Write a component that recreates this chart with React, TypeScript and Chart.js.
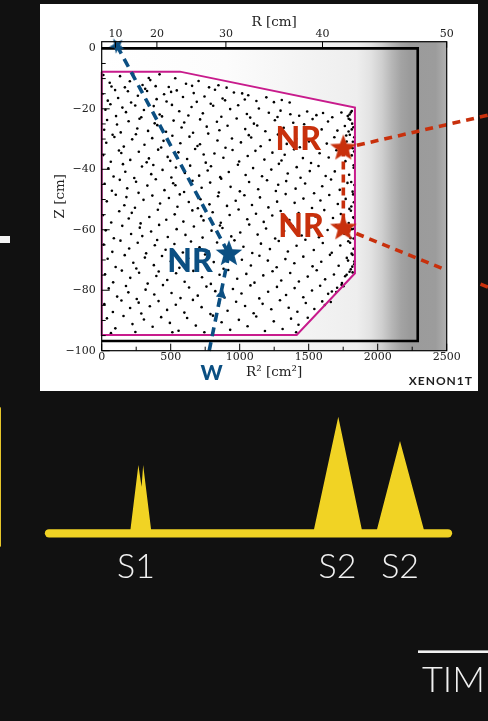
import React, { useEffect, useRef } from "react";
import { Chart, registerables } from "chart.js";

Chart.register(...registerables);

// ---------------- data ----------------
const R2_MAJOR = [0, 500, 1000, 1500, 2000, 2500];
const R2_MINOR = [250, 750, 1250, 1750, 2250];
const R_TOP = [10, 20, 30, 40, 50];
const Z_MAJOR = [0, -20, -40, -60, -80, -100];
const Z_MINOR = [-5, -10, -15, -25, -30, -35, -45, -50, -55, -65, -70, -75, -85, -90, -95];

// fiducial volume (magenta)
const FV_R2 = [0, 567, 1835, 1835, 1413, 0, 0];
const FV_Z = [-7.7, -7.7, -19.6, -74.4, -94.8, -94.8, -7.7];
// TPC boundary (black)
const TPC_R2 = [0, 2290, 2290, 0];
const TPC_Z = [0, 0, -96.8, -96.8];
// background event density (grey)
const BG_R2 = [0, 2500];
const BG_Z = [2.2, 2.2];
const BG_STOPS: [number, string][] = [
  [0, "#ffffff"], [900, "#fcfcfc"], [1500, "#f3f3f3"], [1850, "#eeeeee"],
  [1950, "#e2e2e2"], [2030, "#cfcfcf"], [2100, "#b7b7b7"], [2170, "#a3a3a3"],
  [2230, "#9b9b9b"], [2420, "#9c9c9c"], [2500, "#b0b0b0"],
];

const DOTS: [number, number][] = [
  [12,-8.8],[58,-11.4],[71,-12.6],[133,-9.2],[204,-10.9],[228,-8.4],[296,-12.1],[341,-9.8],[352,-10.5],[419,-8.6],[486,-12.8],[533,-9.9],[611,-11.7],[655,-12.4],[702,-10.8],[778,-12.9],[846,-12.2],[905,-13.0],[391,-12.5],[168,-12.9],
  [5,-15.1],[44,-17.3],[97,-13.8],[119,-16.4],[190,-14.2],[213,-17.9],[262,-15.7],[315,-13.4],[329,-14.1],[398,-16.8],[452,-15.2],[470,-17.6],[544,-13.9],[589,-16.1],[667,-14.8],[689,-17.7],[745,-15.9],[821,-13.7],[876,-16.6],[894,-17.2],[958,-14.6],[1037,-16.9],[1062,-15.5],[1121,-17.4],[1193,-16.2],[1248,-17.8],[1305,-17.1],[1362,-17.9],[1018,-14.9],[503,-14.4],
  [27,-20.3],[63,-18.5],[104,-22.4],[150,-19.6],[176,-21.1],[243,-18.9],[287,-22.8],[306,-20.4],[377,-19.1],[420,-21.9],[437,-22.5],[509,-18.7],[562,-20.8],[628,-22.2],[651,-19.4],[733,-21.5],[790,-18.3],[808,-19.0],[867,-22.6],[931,-20.1],[989,-18.8],[1052,-21.7],[1076,-22.9],[1139,-19.9],[1211,-21.3],[1274,-22.7],[1296,-20.6],[1367,-21.8],[1431,-22.3],[1489,-20.9],[1556,-22.1],[1604,-21.4],[1671,-22.8],[1737,-21.2],[1783,-22.4],[1812,-20.7],[1796,-21.9],
  [18,-26.9],[39,-23.7],[111,-25.2],[138,-27.8],[195,-24.1],[258,-26.5],[274,-23.3],[336,-27.3],[384,-24.8],[403,-25.4],[466,-27.6],[521,-23.9],[579,-26.2],[598,-24.5],[662,-27.9],[713,-23.5],[761,-25.9],[835,-24.3],[853,-27.1],[912,-25.6],[978,-23.2],[1040,-26.7],[1103,-24.9],[1127,-25.5],[1186,-27.4],[1255,-23.8],[1319,-26.3],[1388,-24.6],[1402,-27.7],[1467,-25.1],[1528,-23.4],[1594,-26.8],[1640,-24.2],[1708,-27.2],[1762,-25.7],[1801,-23.6],[1824,-26.1],[1789,-27.5],[1815,-24.9],
  [33,-31.2],[79,-28.6],[92,-29.3],[160,-32.5],[221,-30.1],[248,-28.4],[310,-31.9],[366,-29.7],[431,-32.8],[448,-30.6],[512,-28.9],[570,-31.4],[636,-29.2],[694,-32.3],[712,-31.7],[772,-28.2],[839,-30.5],[897,-32.9],[944,-29.8],[1009,-31.1],[1066,-28.7],[1083,-29.5],[1152,-32.4],[1218,-30.3],[1277,-28.5],[1341,-31.6],[1409,-29.9],[1436,-32.7],[1502,-30.8],[1563,-28.3],[1631,-31.5],[1686,-29.4],[1742,-32.2],[1772,-28.8],[1820,-30.9],[1806,-32.6],
  [11,-35.3],[66,-37.5],[125,-33.8],[142,-34.6],[207,-36.9],[269,-34.2],[326,-37.7],[342,-36.4],[409,-33.5],[478,-35.9],[497,-37.2],[556,-34.4],[619,-36.6],[677,-33.3],[739,-35.1],[754,-37.8],[817,-34.8],[882,-36.2],[948,-33.6],[996,-37.4],[1058,-35.6],[1114,-33.9],[1179,-36.8],[1237,-34.5],[1303,-37.1],[1326,-35.2],[1394,-33.4],[1458,-36.3],[1517,-37.9],[1579,-34.7],[1645,-36.1],[1701,-33.7],[1766,-37.3],[1812,-35.4],[1829,-34.1],
  [48,-39.7],[86,-42.4],[154,-38.3],[171,-40.8],[236,-42.9],[292,-39.1],[359,-41.6],[374,-38.6],[441,-40.2],[505,-42.7],[538,-39.4],[603,-41.2],[641,-38.8],[706,-42.1],[768,-40.4],[792,-39.0],[859,-42.6],[921,-40.9],[987,-38.5],[1043,-41.9],[1097,-39.6],[1162,-42.3],[1229,-40.1],[1284,-38.2],[1348,-41.4],[1413,-39.3],[1441,-42.8],[1508,-40.6],[1571,-38.9],[1623,-42.2],[1689,-40.7],[1750,-39.5],[1793,-41.8],[1826,-38.7],
  [21,-44.8],[74,-47.1],[131,-43.5],[185,-46.3],[249,-44.1],[267,-47.8],[331,-45.4],[392,-43.3],[455,-46.9],[518,-44.6],[534,-45.3],[597,-47.5],[658,-43.8],[724,-46.1],[786,-44.4],[849,-47.7],[866,-43.1],[934,-45.8],[1001,-47.3],[1068,-44.2],[1134,-46.6],[1198,-43.6],[1262,-47.2],[1279,-45.1],[1337,-43.9],[1405,-46.4],[1474,-44.7],[1539,-47.9],[1598,-45.6],[1662,-43.4],[1725,-46.8],[1781,-44.5],[1818,-47.4],[1831,-45.2],
  [37,-50.6],[102,-48.4],[164,-51.9],[179,-49.2],[241,-52.7],[303,-50.1],[367,-48.7],[423,-51.3],[487,-49.5],[549,-52.4],[566,-48.3],[631,-50.8],[697,-52.9],[716,-49.9],[781,-51.6],[843,-48.9],[908,-52.1],[971,-50.4],[1034,-48.6],[1089,-51.8],[1147,-49.3],[1208,-52.6],[1271,-50.7],[1333,-48.2],[1398,-51.1],[1462,-49.7],[1524,-52.8],[1585,-50.3],[1649,-48.5],[1711,-51.5],[1768,-49.8],[1809,-52.3],[1827,-50.9],
  [8,-55.2],[69,-57.6],[127,-53.9],[196,-56.3],[218,-54.4],[282,-57.9],[345,-55.8],[407,-53.4],[468,-56.7],[529,-54.9],[592,-57.3],[657,-53.6],[721,-55.5],[738,-56.9],[804,-54.2],[863,-57.7],[927,-55.1],[992,-53.3],[1055,-56.5],[1118,-54.7],[1174,-57.4],[1236,-55.3],[1297,-53.8],[1360,-56.8],[1427,-54.5],[1493,-57.2],[1548,-55.6],[1613,-53.5],[1676,-56.1],[1733,-54.8],[1790,-57.8],[1823,-55.9],[1806,-53.7],
  [29,-60.2],[88,-62.8],[149,-58.7],[213,-61.4],[276,-59.3],[294,-62.1],[358,-60.6],[416,-58.4],[479,-62.4],[543,-59.8],[607,-61.7],[668,-58.9],[731,-62.6],[796,-60.3],[857,-58.6],[875,-59.4],[939,-62.2],[1004,-60.9],[1069,-58.3],[1130,-61.6],[1191,-59.6],[1257,-62.9],[1322,-60.4],[1385,-58.8],[1449,-61.9],[1516,-59.2],[1574,-62.5],[1637,-60.1],[1698,-58.5],[1758,-61.3],[1803,-62.7],[1829,-59.7],
  [14,-64.9],[77,-67.3],[136,-63.6],[199,-66.2],[261,-64.3],[322,-67.8],[385,-65.1],[402,-63.4],[463,-66.6],[527,-64.7],[588,-67.5],[647,-63.9],[709,-65.8],[774,-67.1],[836,-64.2],[898,-66.9],[962,-63.5],[1027,-65.6],[1091,-67.7],[1154,-64.6],[1219,-66.4],[1283,-63.7],[1349,-67.2],[1412,-65.3],[1476,-63.3],[1537,-66.7],[1602,-64.4],[1667,-67.6],[1729,-65.2],[1787,-63.8],[1825,-66.3],[1811,-67.9],
  [43,-69.6],[101,-72.3],[167,-68.4],[229,-70.9],[251,-72.8],[313,-69.2],[378,-71.7],[437,-68.7],[501,-70.4],[563,-72.6],[626,-69.4],[688,-71.3],[749,-68.2],[812,-70.7],[883,-72.9],[1016,-69.9],[1081,-71.8],[1143,-68.6],[1204,-70.2],[1268,-72.4],[1331,-69.7],[1396,-71.1],[1461,-68.9],[1528,-72.1],[1591,-70.6],[1654,-68.3],[1717,-71.9],[1776,-69.3],[1816,-72.2],[1830,-70.5],
  [24,-74.7],[83,-77.4],[146,-73.5],[207,-75.9],[271,-74.2],[333,-77.8],[396,-75.3],[413,-73.8],[475,-76.6],[539,-74.4],[601,-77.2],[664,-73.6],[727,-75.7],[791,-77.9],[854,-74.9],[917,-73.3],[982,-76.2],[1048,-74.6],[1107,-77.5],[1171,-75.1],[1238,-73.7],[1301,-76.8],[1366,-74.3],[1429,-77.1],[1493,-75.5],[1558,-73.4],[1619,-76.4],[1683,-74.8],[1741,-77.6],[1796,-73.9],[1764,-75.4],[1818,-74.1],
  [51,-79.4],[112,-82.1],[176,-78.6],[193,-80.7],[254,-82.9],[318,-79.8],[381,-81.4],[444,-78.3],[506,-80.9],[571,-82.6],[633,-79.1],[696,-81.8],[759,-78.8],[823,-80.3],[889,-82.4],[951,-79.6],[1013,-81.1],[1078,-78.4],[1142,-82.7],[1206,-80.5],[1270,-78.9],[1336,-81.6],[1398,-79.3],[1461,-82.3],[1524,-80.1],[1583,-78.5],[1641,-81.2],[1706,-79.2],[1738,-78.2],[1668,-80.4],
  [19,-84.6],[81,-87.2],[143,-83.4],[206,-85.9],[268,-84.1],[287,-87.7],[349,-85.3],[412,-83.6],[474,-86.5],[537,-84.8],[599,-87.4],[661,-83.2],[724,-85.6],[788,-87.9],[849,-84.3],[912,-86.8],[974,-83.8],[1039,-85.2],[1101,-87.6],[1166,-84.5],[1229,-86.3],[1292,-83.3],[1355,-85.8],[1418,-87.1],[1479,-84.2],[1541,-86.2],[1598,-83.7],[1617,-84.9],
  [38,-89.3],[99,-92.6],[158,-88.5],[223,-91.2],[244,-93.8],[306,-89.7],[369,-92.1],[431,-88.9],[494,-90.8],[557,-93.4],[619,-89.2],[682,-91.7],[744,-93.9],[806,-88.4],[869,-90.6],[931,-93.1],[994,-89.8],[1057,-91.9],[1120,-88.7],[1183,-93.5],[1247,-90.3],[1311,-92.8],[1372,-89.4],[1426,-91.4],[1493,-89.1],[1409,-93.9],[67,-94.2],[512,-93.9],
  [1805,-21.2],[1790,-23.3],[1812,-26.8],[1798,-28.6],[1830,-29.4],[1775,-30.8],[1818,-33.0],[1826,-39.5],[1808,-44.2],[1822,-48.3],[1795,-53.1],[1828,-56.1],[1812,-59.8],[1825,-62.9],[1800,-64.3],[1818,-68.3],[1830,-71.4],[1805,-73.1],[1785,-70.2],[1775,-74.9],[1752,-78.7],[1700,-80.6],[1660,-83.9],
];

// neutron paths and interaction sites
const BLUE_UP: [number, number][] = [[111, 0.9], [922, -68.0]];
const BLUE_DOWN: [number, number][] = [[922, -68.0], [771, -101.8]];
const BLUE_ARROW: [number, number][] = [[868, -81.4]];
const BLUE_STAR_END: [number, number][] = [[111, 0.9]];
const BLUE_STAR_SITE: [number, number][] = [[922, -68.0]];
const RED_STAR_SITES: [number, number][] = [[1751, -33.1], [1751, -59.5]];
const RED_VERT: [number, number][] = [[1751, -33.1], [1751, -59.5]];
const RED_UP: [number, number][] = [[1751, -33.1], [2800, -22.1]];
const RED_LOW_A: [number, number][] = [[1751, -59.5], [2500, -73.4]];
const RED_LOW_B: [number, number][] = [[2745, -78.0], [2800, -79.0]];

// text anchors (R², Z)
const TEXT_LABELS = [
  { text: "NR", r2: 640, z: -73.9, color: "blue", size: 32 },
  { text: "NR", r2: 1425, z: -33.6, color: "red", size: 32 },
  { text: "NR", r2: 1444, z: -62.3, color: "red", size: 32 },
  { text: "W", r2: 796, z: -109.7, color: "blue", size: 21 },
];

// PMT waveform (time, amplitude)
const WAVE_T = [0, 20.3, 22.4, 23.2, 23.6, 25.7, 66.2, 72.5, 78.6, 81.95, 87.97, 94.2, 100];
const WAVE_A = [0, 0, 58.6, 40, 58.6, 0, 0, 100, 0, 0, 79.2, 0, 0];
const BASE_T = [0, 100];
const BASE_A = [0, 0];
const PEAK_LABELS = [
  { text: "S1", t: 21.8 },
  { text: "S2", t: 72.3 },
  { text: "S2", t: 88.0 },
];

// ---------------- styles ----------------
const BLUE = "#0b4f82";
const RED = "#c8300c";
const MAGENTA = "#c81b8c";
const YELLOW = "#f1d324";
const BG = "#111111";

const zip = (xs: number[], ys: number[]) => xs.map((x, i) => ({ x, y: ys[i] }));
const pts = (a: [number, number][]) => a.map(([x, y]) => ({ x, y }));

function makeStar(color: string, R: number, ratio = 0.42) {
  const c = document.createElement("canvas");
  const s = Math.ceil(2 * R + 4);
  c.width = s;
  c.height = s;
  const g = c.getContext("2d")!;
  g.translate(s / 2, s / 2);
  g.beginPath();
  for (let i = 0; i < 10; i++) {
    const r = i % 2 === 0 ? R : R * ratio;
    const a = -Math.PI / 2 + (i * Math.PI) / 5;
    const px = Math.cos(a) * r;
    const py = Math.sin(a) * r;
    if (i === 0) g.moveTo(px, py);
    else g.lineTo(px, py);
  }
  g.closePath();
  g.fillStyle = color;
  g.fill();
  return c;
}

const serif = "'DejaVu Serif', serif";

export default function App() {
  const c1 = useRef<HTMLCanvasElement>(null);
  const c2 = useRef<HTMLCanvasElement>(null);

  useEffect(() => {
    if (!c1.current || !c2.current) return;

    const starBlueSmall = makeStar(BLUE, 8);
    const starBlue = makeStar(BLUE, 14);
    const starRed = makeStar(RED, 14);

    const panelPlugin = {
      id: "panel",
      beforeDraw(chart: any) {
        const { ctx, width, height } = chart;
        ctx.save();
        ctx.fillStyle = BG;
        ctx.fillRect(0, 0, width, height);
        ctx.fillStyle = "#ffffff";
        ctx.fillRect(40, 4, 438, 387);
        ctx.restore();
      },
      afterDatasetsDraw(chart: any) {
        const { ctx, chartArea, scales } = chart;
        const { left, right, top, bottom } = chartArea;
        const sx = scales.x;
        const sy = scales.y;
        ctx.save();
        ctx.strokeStyle = "#000";
        ctx.lineWidth = 1.2;
        ctx.strokeRect(left, top, right - left, bottom - top);
        ctx.lineWidth = 1;
        ctx.beginPath();
        R2_MAJOR.forEach((v) => {
          const x = sx.getPixelForValue(v);
          ctx.moveTo(x, bottom);
          ctx.lineTo(x, bottom - 7);
        });
        R2_MINOR.forEach((v) => {
          const x = sx.getPixelForValue(v);
          ctx.moveTo(x, bottom);
          ctx.lineTo(x, bottom - 4);
        });
        R_TOP.forEach((r) => {
          const x = sx.getPixelForValue(r * r);
          ctx.moveTo(x, top);
          ctx.lineTo(x, top + 6);
        });
        Z_MAJOR.forEach((v) => {
          const y = sy.getPixelForValue(v);
          ctx.moveTo(left, y);
          ctx.lineTo(left + 8, y);
        });
        Z_MINOR.forEach((v) => {
          const y = sy.getPixelForValue(v);
          ctx.moveTo(left, y);
          ctx.lineTo(left + 4, y);
        });
        ctx.stroke();

        ctx.textAlign = "center";
        ctx.textBaseline = "alphabetic";
        TEXT_LABELS.forEach((l) => {
          ctx.fillStyle = l.color === "blue" ? BLUE : RED;
          ctx.font = `900 ${l.size}px Lato, 'Noto Sans', sans-serif`;
          ctx.fillText(l.text, sx.getPixelForValue(l.r2), sy.getPixelForValue(l.z));
        });

        ctx.fillStyle = "#1e1e1e";
        ctx.font = "700 12px Lato, sans-serif";
        (ctx as any).letterSpacing = "1px";
        ctx.textAlign = "right";
        ctx.fillText("XENON1T", 473, 385);
        ctx.restore();
      },
    };

    const gradient = (ctx: any) => {
      const chart = ctx.chart;
      const xs = chart.scales && chart.scales.x;
      if (!chart.chartArea || !xs) return "#ffffff";
      const x0 = xs.getPixelForValue(0);
      const x1 = xs.getPixelForValue(2500);
      const g = chart.ctx.createLinearGradient(x0, 0, x1, 0);
      BG_STOPS.forEach(([v, c]) => g.addColorStop(v / 2500, c));
      return g;
    };

    const lineDs = (data: any[], color: string, width: number, dash: number[] | undefined, order: number) => ({
      data,
      showLine: true,
      pointRadius: 0,
      borderColor: color,
      borderWidth: width,
      borderDash: dash,
      fill: false,
      clip: false as any,
      order,
    });

    const chart1 = new Chart(c1.current, {
      type: "scatter",
      data: {
        datasets: [
          {
            data: zip(BG_R2, BG_Z),
            showLine: true,
            pointRadius: 0,
            borderWidth: 0,
            borderColor: "rgba(0,0,0,0)",
            fill: "start",
            backgroundColor: gradient,
            order: 100,
          } as any,
          {
            data: zip(FV_R2, FV_Z),
            showLine: true,
            pointRadius: 0,
            borderWidth: 0,
            borderColor: "rgba(0,0,0,0)",
            fill: "shape",
            backgroundColor: "#ffffff",
            order: 90,
          } as any,
          {
            data: pts(DOTS),
            pointRadius: 1.3,
            pointBackgroundColor: "#000",
            pointBorderWidth: 0,
            order: 80,
          } as any,
          lineDs(zip(FV_R2, FV_Z), MAGENTA, 2, undefined, 70),
          lineDs(zip(TPC_R2, TPC_Z), "#000", 2.6, undefined, 60),
          lineDs(pts(BLUE_UP), BLUE, 3.6, [9, 6], 50),
          lineDs(pts(BLUE_DOWN), BLUE, 3.6, [9, 6], 50),
          lineDs(pts(RED_VERT), RED, 3.6, [8, 5], 50),
          lineDs(pts(RED_UP), RED, 3.6, [8, 6], 50),
          lineDs(pts(RED_LOW_A), RED, 3.6, [8, 6], 50),
          lineDs(pts(RED_LOW_B), RED, 3.6, [8, 6], 50),
          {
            data: pts(BLUE_ARROW),
            pointStyle: "triangle",
            pointRadius: 6,
            pointRotation: 11,
            pointBackgroundColor: BLUE,
            pointBorderWidth: 0,
            clip: false,
            order: 40,
          } as any,
          {
            data: pts(BLUE_STAR_END),
            pointStyle: starBlueSmall,
            pointRadius: 8,
            pointRotation: -28,
            clip: false,
            order: 30,
          } as any,
          {
            data: pts(BLUE_STAR_SITE),
            pointStyle: starBlue,
            pointRadius: 10,
            clip: false,
            order: 30,
          } as any,
          {
            data: pts(RED_STAR_SITES),
            pointStyle: starRed,
            pointRadius: 10,
            clip: false,
            order: 30,
          } as any,
        ],
      },
      options: {
        responsive: false,
        maintainAspectRatio: false,
        animation: false,
        events: [],
        layout: { padding: { left: 40, right: 41.3, top: 4, bottom: 9 } },
        plugins: { legend: { display: false }, tooltip: { enabled: false } },
        scales: {
          x: {
            type: "linear",
            position: "bottom",
            min: 0,
            max: 2500,
            afterBuildTicks: (s: any) => {
              s.ticks = R2_MAJOR.map((v) => ({ value: v }));
            },
            afterFit: (s: any) => {
              s.height = 40.3;
            },
            grid: { display: false, drawTicks: false },
            border: { display: false },
            ticks: {
              autoSkip: false,
              maxRotation: 0,
              padding: 0,
              color: "#222",
              font: { family: serif, size: 11 },
              callback: (v: any) => String(v),
            },
            title: {
              display: true,
              text: "R² [cm²]",
              color: "#222",
              font: { family: serif, size: 13.5 },
              padding: { top: 0, bottom: 10.9 },
            },
          },
          xTop: {
            type: "linear",
            position: "top",
            min: 0,
            max: 2500,
            afterBuildTicks: (s: any) => {
              s.ticks = R_TOP.map((r) => ({ value: r * r }));
            },
            afterFit: (s: any) => {
              s.height = 37.7;
            },
            grid: { display: false, drawTicks: false },
            border: { display: false },
            ticks: {
              autoSkip: false,
              maxRotation: 0,
              padding: 1.4,
              color: "#222",
              font: { family: serif, size: 11 },
              callback: (v: any) => String(Math.round(Math.sqrt(Number(v)))),
            },
            title: {
              display: true,
              text: "R [cm]",
              color: "#222",
              font: { family: serif, size: 13.5 },
              padding: { top: 10.6, bottom: 0 },
            },
          },
          y: {
            type: "linear",
            position: "left",
            min: -100,
            max: 2.2,
            afterBuildTicks: (s: any) => {
              s.ticks = Z_MAJOR.map((v) => ({ value: v }));
            },
            afterFit: (s: any) => {
              s.width = 61.7;
            },
            grid: { display: false, drawTicks: false },
            border: { display: false },
            ticks: {
              autoSkip: false,
              padding: 6,
              color: "#222",
              font: { family: serif, size: 11 },
              callback: (v: any) => (Number(v) < 0 ? "\u2212" + Math.abs(Number(v)) : String(v)),
            },
            title: {
              display: true,
              text: "Z [cm]",
              color: "#222",
              font: { family: serif, size: 13.5 },
              padding: { top: 11.9, bottom: 0 },
            },
          },
        },
      } as any,
      plugins: [panelPlugin as any],
    });

    const wavePlugin = {
      id: "waveText",
      afterDatasetsDraw(chart: any) {
        const { ctx, scales } = chart;
        ctx.save();
        ctx.fillStyle = "#f2f2f2";
        ctx.font = "300 34px Lato, Roboto, sans-serif";
        ctx.textAlign = "center";
        ctx.textBaseline = "alphabetic";
        PEAK_LABELS.forEach((l) => {
          ctx.fillText(l.text, scales.x.getPixelForValue(l.t), scales.y.getPixelForValue(-38.3));
        });
        ctx.textAlign = "left";
        ctx.font = "300 36px Lato, Roboto, sans-serif";
        ctx.fillText("TIM", 422, 291.7);
        ctx.fillStyle = "#f2f2f2";
        ctx.fillRect(418, 250.4, 70, 2.6);
        ctx.restore();
      },
    };

    const chart2 = new Chart(c2.current, {
      type: "scatter",
      data: {
        datasets: [
          {
            data: zip(WAVE_T, WAVE_A),
            showLine: true,
            pointRadius: 0,
            borderWidth: 0,
            borderColor: "rgba(0,0,0,0)",
            backgroundColor: YELLOW,
            fill: "origin",
            order: 2,
          } as any,
          {
            data: zip(BASE_T, BASE_A),
            showLine: true,
            pointRadius: 0,
            borderColor: YELLOW,
            borderWidth: 8.3,
            borderCapStyle: "round",
            fill: false,
            clip: false,
            order: 1,
          } as any,
        ],
      },
      options: {
        responsive: false,
        maintainAspectRatio: false,
        animation: false,
        events: [],
        layout: { padding: { left: 49, right: 40, top: 16.7, bottom: 187.7 } },
        plugins: { legend: { display: false }, tooltip: { enabled: false } },
        scales: {
          x: { type: "linear", min: 0, max: 100, display: false },
          y: { type: "linear", min: 0, max: 100, display: false },
        },
      } as any,
      plugins: [wavePlugin as any],
    });

    return () => {
      chart1.destroy();
      chart2.destroy();
    };
  }, []);

  return (
    <div
      style={{
        position: "fixed",
        left: 0,
        top: 0,
        width: 488,
        height: 721,
        background: BG,
        overflow: "hidden",
      }}
    >
      <canvas ref={c1} width={488} height={400} style={{ position: "absolute", left: 0, top: 0 }} />
      <canvas ref={c2} width={488} height={321} style={{ position: "absolute", left: 0, top: 400 }} />
      <div style={{ position: "absolute", left: 0, top: 236, width: 10, height: 7, background: "#f4f4f4" }} />
      <div
        style={{
          position: "absolute",
          left: -2,
          top: 407,
          width: 3.3,
          height: 140,
          background: "#e6c62a",
          borderRadius: 2,
        }}
      />
    </div>
  );
}
